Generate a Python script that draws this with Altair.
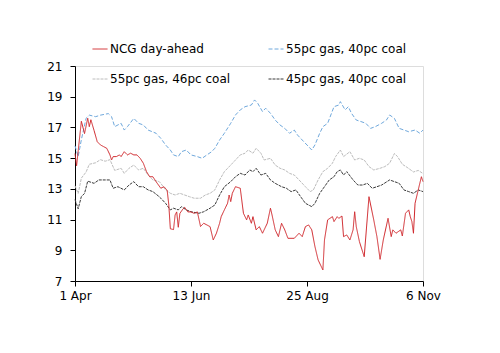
import altair as alt
import pandas as pd

series_names = ["NCG day-ahead", "55pc gas, 40pc coal", "55pc gas, 46pc coal", "45pc gas, 40pc coal"]
series_colors = ["#d0262b", "#6fa8dc", "#bcbcbc", "#3a3a3a"]
series_dash = [[1, 0], [4, 2], [3, 1], [3, 1]]

tick_days = [0, 73, 146, 219]
tick_labels = ["1 Apr", "13 Jun", "25 Aug", "6 Nov"]
y_ticks = [7, 9, 11, 13, 15, 17, 19, 21]

# days since 1 Apr
red_days = [0, 1, 4, 6, 8, 9, 10, 12, 14, 16, 18, 20, 22, 23, 24, 26, 28, 29, 31, 33, 35, 37, 39, 41, 43, 45, 47, 49, 51, 54,
            56, 58, 59, 60, 62, 63, 64, 65, 66, 68, 69, 71, 73, 75, 77, 79, 81, 83, 85, 87, 89, 91, 92, 94, 96, 97, 98, 99, 101, 104,
            106, 108, 109, 111, 112, 114, 116, 118, 121, 123, 124, 126, 128, 130, 132, 134, 138, 141, 143, 145, 147, 149, 151, 153, 156, 157, 159, 162, 163, 165,
            166, 168, 169, 171, 173, 175, 176, 177, 179, 182, 185, 188, 190, 192, 194, 197, 199, 200, 202, 205, 206, 208, 210, 211, 212, 213, 214, 216, 218, 219]
red_vals = [15.3, 14.5, 17.4, 16.6, 17.6, 17.05, 17.5, 16.8, 16.07, 15.86, 15.75, 15.64, 15.21, 14.88, 15.1, 15.1, 15.21, 15.1, 15.42, 15.21, 15.32, 15.21, 15.21, 14.99, 14.67, 14.12, 13.79, 13.79, 13.47, 13.04,
            13.14, 12.9, 12.0, 10.4, 10.35, 11.3, 11.5, 10.5, 11.4, 11.7, 11.8, 11.5, 11.5, 11.4, 11.5, 10.55, 10.76, 10.65, 10.54, 9.67, 10.11, 10.76, 11.19, 11.63, 12.06, 12.6, 12.17, 12.71, 13.14, 13.04,
            11.41, 10.98, 11.3, 10.76, 11.19, 10.33, 10.54, 10.11, 10.76, 11.74, 11.3, 10.33, 9.89, 10.76, 10.33, 9.78, 9.78, 10.11, 9.89, 10.54, 10.65, 10.33, 9.24, 8.37, 7.72, 9.67, 10.98, 11.19, 10.87, 11.19,
            11.08, 11.23, 9.89, 10.0, 9.67, 10.33, 11.51, 10.54, 9.56, 8.58, 12.49, 10.98, 9.89, 8.41, 9.67, 11.08, 9.89, 10.33, 10.11, 10.33, 9.93, 11.41, 11.63, 11.19, 10.87, 10.11, 12.06, 12.93, 13.79, 13.47]

blue_days = [0, 2, 4, 7, 9, 13, 16, 21, 23, 25, 29, 31, 33, 37, 40, 43, 46, 51, 54, 57, 60, 62, 65, 67, 70, 73, 77, 80, 83, 86,
             88, 91, 94, 98, 101, 104, 107, 111, 113, 115, 118, 120, 123, 126, 129, 132, 135, 138, 140, 143, 147, 149, 151, 154, 156,
             159, 161, 163, 166, 167, 170, 172, 174, 177, 180, 183, 186, 189, 193, 196, 198, 201, 204, 207, 210, 214, 217, 219]
blue_vals = [15.8, 15.1, 16.2, 17.6, 17.8, 17.7, 17.8, 17.9, 17.7, 17.05, 17.27, 16.83, 17.05, 17.59, 17.27, 17.16, 16.83, 16.62, 16.29, 15.86, 15.53, 15.21, 15.1, 15.42, 15.53, 15.21, 15.1, 14.99, 15.21, 15.42,
             15.64, 16.18, 16.62, 17.27, 17.81, 18.14, 18.35, 18.46, 18.79, 18.57, 18.03, 18.25, 17.92, 17.48, 17.16, 16.94, 16.62, 16.83, 16.51, 16.18, 15.75, 15.53, 15.86, 16.62, 17.05,
             17.27, 17.81, 18.35, 18.46, 18.68, 18.14, 18.35, 17.92, 17.48, 17.38, 17.27, 16.94, 17.05, 17.27, 17.48, 17.81, 17.59, 16.94, 16.83, 16.72, 16.83, 16.62, 16.83]

lgray_days = [0, 2, 4, 7, 9, 13, 16, 19, 22, 25, 29, 31, 34, 37, 40, 43, 46, 49, 53, 54, 57, 60, 63, 66, 69, 72, 75, 79, 82, 85,
              88, 91, 94, 98, 101, 104, 107, 109, 112, 114, 117, 119, 123, 126, 129, 132, 135, 138, 141, 145, 148, 150, 153, 156, 159,
              162, 164, 167, 169, 173, 176, 179, 182, 185, 188, 192, 195, 198, 201, 203, 206, 209, 213, 216, 219]
lgray_vals = [13.2, 12.7, 13.7, 14.1, 14.6, 14.7, 14.9, 14.8, 14.9, 14.2, 14.34, 14.01, 14.34, 14.55, 14.23, 14.34, 13.9, 13.58, 13.47, 13.36, 12.93, 12.71, 12.6, 12.71, 12.6, 12.49, 12.39, 12.39, 12.6, 12.71,
              12.93, 13.58, 14.12, 14.55, 14.88, 15.21, 15.32, 15.53, 15.32, 15.64, 15.32, 14.88, 14.99, 14.55, 14.34, 14.23, 14.01, 13.9, 13.58, 13.14, 12.82, 12.93, 13.58, 14.12, 14.34,
              14.67, 15.1, 15.53, 15.1, 15.42, 14.88, 14.99, 14.88, 14.45, 14.23, 14.34, 14.45, 14.67, 15.3, 15.1, 14.6, 14.4, 14.1, 14.2, 14.0]

dgray_days = [0, 2, 4, 6, 8, 12, 15, 19, 22, 24, 27, 31, 34, 37, 40, 43, 46, 49, 53, 54, 57, 60, 62, 65, 67, 70, 73, 78, 81, 85,
              88, 91, 94, 98, 101, 104, 107, 110, 112, 114, 117, 120, 123, 126, 130, 133, 136, 139, 142, 145, 149, 151, 154, 157, 160,
              163, 165, 167, 169, 171, 175, 178, 181, 184, 187, 190, 193, 198, 201, 204, 207, 210, 213, 216, 219]
dgray_vals = [12.3, 11.7, 12.5, 12.7, 13.5, 13.36, 13.58, 13.58, 13.58, 13.04, 13.14, 12.93, 13.25, 13.47, 13.14, 13.14, 12.93, 12.82, 12.49, 12.39, 12.06, 11.63, 11.74, 11.63, 11.84, 11.63, 11.51, 11.41, 11.51, 11.74,
              11.95, 12.6, 13.14, 13.47, 13.79, 14.01, 13.9, 14.23, 14.12, 14.34, 13.9, 14.01, 13.58, 13.36, 13.14, 13.04, 12.82, 12.93, 12.49, 12.06, 11.84, 12.06, 12.71, 13.14, 13.58,
              13.79, 14.12, 14.23, 13.9, 14.12, 13.58, 13.25, 13.25, 13.36, 13.04, 13.14, 13.25, 13.58, 13.47, 13.36, 12.93, 12.82, 12.71, 12.93, 12.82]

rows = []
for name, days, vals in [(series_names[3], dgray_days, dgray_vals),
                         (series_names[2], lgray_days, lgray_vals),
                         (series_names[1], blue_days, blue_vals),
                         (series_names[0], red_days, red_vals)]:
    for d, v in zip(days, vals):
        rows.append({"series": name, "day": d, "value": v})
df = pd.DataFrame(rows)

label_expr = " : ".join(
    [f"datum.value == {d} ? '{l}'" for d, l in zip(tick_days, tick_labels)]
) + " : ''"

FONT = "DejaVu Sans"

chart = alt.Chart(df).mark_line(strokeWidth=1, interpolate="linear").encode(
    x=alt.X("day:Q", scale=alt.Scale(domain=[0, 219], nice=False, zero=False),
            axis=alt.Axis(values=tick_days, labelExpr=label_expr, title=None, grid=False,
                          tickSize=5, labelPadding=4, domainColor="black", tickColor="black",
                          labelColor="black", labelFontSize=12, labelFont=FONT, labelFlush=False)),
    y=alt.Y("value:Q", scale=alt.Scale(domain=[7, 21], nice=False, zero=False),
            axis=alt.Axis(values=y_ticks, title=None, grid=False, tickSize=5, labelPadding=8,
                          domainColor="black", tickColor="black", labelColor="black",
                          labelFontSize=12, labelFont=FONT)),
    color=alt.Color("series:N", scale=alt.Scale(domain=series_names, range=series_colors),
                    sort=series_names,
                    legend=alt.Legend(orient="none", legendX=17, legendY=-25, columns=2, title=None,
                                      direction="horizontal",
                                      symbolType="stroke", symbolSize=225, symbolStrokeWidth=1,
                                      labelFontSize=12, labelFont=FONT, labelColor="black",
                                      labelOffset=2, rowPadding=16, columnPadding=35)),
    strokeDash=alt.StrokeDash("series:N", scale=alt.Scale(domain=series_names, range=series_dash),
                              sort=series_names, legend=None),
    detail="series:N",
).properties(
    width=348, height=215,
    autosize=alt.AutoSizeParams(type="none"),
    padding={"left": 75, "top": 66, "right": 77, "bottom": 72},
).configure_view(stroke=None).configure(background="white")

chart.save("out.html", embed_options={"renderer": "svg", "actions": False})
